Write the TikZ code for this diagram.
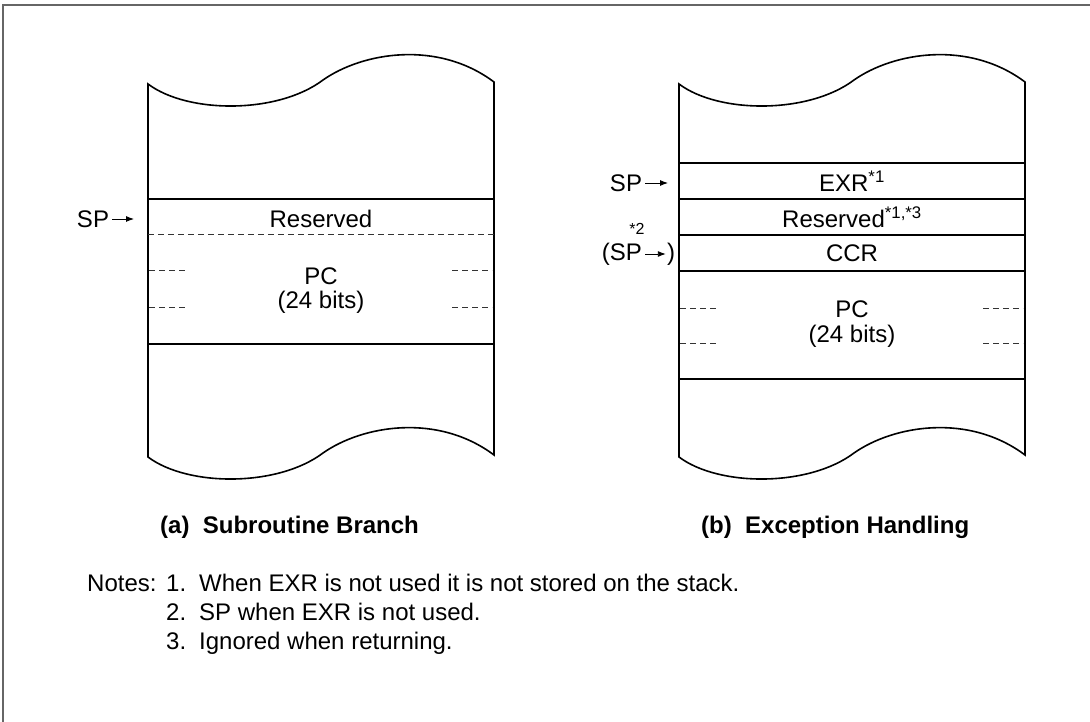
\documentclass[tikz,border=0pt]{standalone}
\usepackage{fontspec}
\setmainfont{Liberation Sans}
\usetikzlibrary{positioning,arrows.meta}

\begin{document}
\begin{tikzpicture}[x=1pt,y=-1pt]
\tikzstyle{txt}=[inner sep=0pt, font=\fontsize{24}{28}\selectfont]
\tikzstyle{starmark}=[inner sep=0pt, font=\fontsize{16}{18}\selectfont]
\tikzstyle{caption}=[inner sep=0pt, anchor=west, font=\fontsize{24}{28}\selectfont\bfseries]
\tikzstyle{noteline}=[inner sep=0pt, anchor=base west, font=\fontsize{24}{28}\selectfont]
\tikzstyle{stack}=[line width=1.6pt, line join=miter]
\tikzstyle{sep}=[line width=1.6pt]
\tikzstyle{gap}=[line width=1pt, dash pattern=on 6pt off 4pt, black!80]
\tikzstyle{connect}=[-{Latex[length=8pt,width=6pt]}, line width=0.9pt, shorten <=3pt]
\tikzstyle{frame}=[line width=1.2pt, black!60]
\useasboundingbox (0,0) rectangle (1090,722);
\draw[frame] (3,722) -- (3,5) -- (1090,5);

% (a) subroutine branch
\draw[stack] (148,84) .. controls (188,114) and (278,114) .. (323,80)
  .. controls (363,52) and (438,40) .. (494,82) -- (494,455)
  .. controls (438,413) and (363,425) .. (323,453)
  .. controls (278,487) and (188,487) .. (148,457) -- cycle;
\draw[sep] (148,199) -- (494,199);
\draw[sep] (148,344) -- (494,344);
\draw[gap] (148,235) -- (494,235);
\draw[gap] (149,271) -- (187,271)  (452,271) -- (492,271);
\draw[gap] (149,307) -- (187,307)  (452,307) -- (492,307);
\node[txt] (resa) at (321,219) {Reserved};
\node[txt] (pca) at (321,276) {PC};
\node[txt] (bitsa) [below =6pt of pca] {(24 bits)};
\node[txt] (spa) at (93,219) {SP};
\coordinate (spae) at (134,219);
\draw[connect] (spa) -- (spae);
\node[caption] (capa) at (160,527) {(a)\ \ Subroutine Branch};

% (b) exception handling
\draw[stack] (679,84) .. controls (719,114) and (809,114) .. (854,80)
  .. controls (894,52) and (969,40) .. (1025,82) -- (1025,455)
  .. controls (969,413) and (894,425) .. (854,453)
  .. controls (809,487) and (719,487) .. (679,457) -- cycle;
\draw[sep] (679,163) -- (1025,163);
\draw[sep] (679,199) -- (1025,199);
\draw[sep] (679,235) -- (1025,235);
\draw[sep] (679,271) -- (1025,271);
\draw[sep] (679,379) -- (1025,379);
\draw[gap] (680,308) -- (718,308)  (983,308) -- (1023,308);
\draw[gap] (680,343) -- (718,343)  (983,343) -- (1023,343);
\node[txt] (exr) at (852,181) {EXR\textsuperscript{*1}};
\node[txt] (resb) at (852,217) {Reserved\textsuperscript{*1,*3}};
\node[txt] (ccr) at (852,253) {CCR};
\node[txt] (pcb) at (852,309) {PC};
\node[txt] (bitsb) [below =7pt of pcb] {(24 bits)};
\node[txt] (spb) at (626,183) {SP};
\coordinate (spbe) at (668,183);
\draw[connect] (spb) -- (spbe);
\node[starmark] (star2) at (637,229) {*2};
\node[txt, anchor=east] (spc) at (642,254) {(SP};
\node[txt] (spcr) at (671,254) {)};
\draw[connect, shorten >=1pt] (spc) -- (spcr);
\node[caption] (capb) at (701,527) {(b)\ \ Exception Handling};

% notes
\node[noteline] (notes) at (87,591) {Notes:};
\node[noteline] (num1) at (166,591) {1.};
\node[noteline] (num2) at (166,620) {2.};
\node[noteline] (num3) at (166,649) {3.};
\node[noteline] (note1) at (199,591) {When EXR is not used it is not stored on the stack.};
\node[noteline] (note2) at (199,620) {SP when EXR is not used.};
\node[noteline] (note3) at (199,649) {Ignored when returning.};
\end{tikzpicture}
\end{document}
